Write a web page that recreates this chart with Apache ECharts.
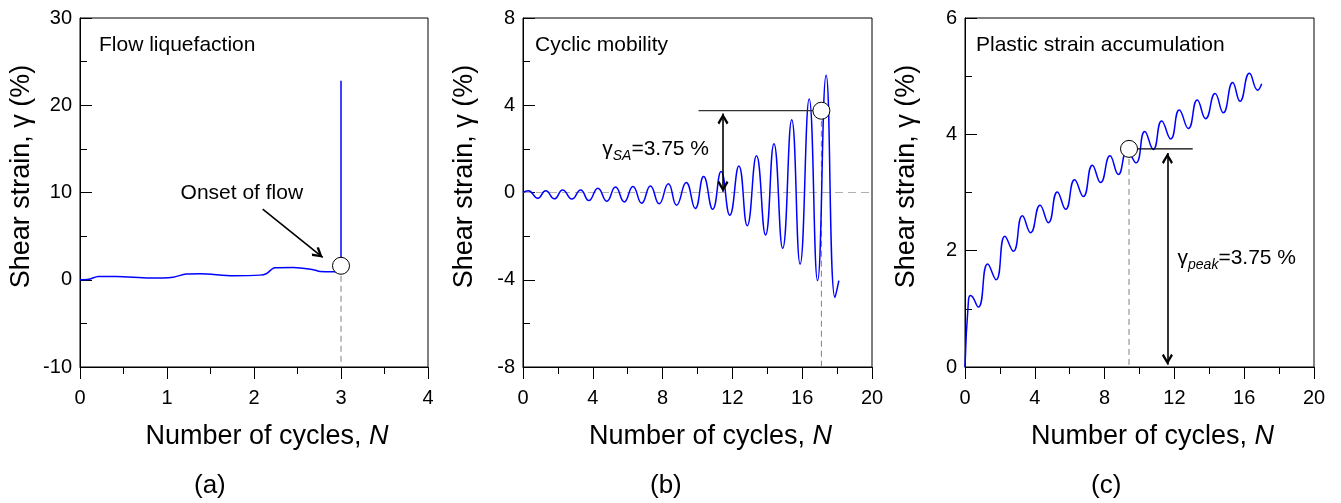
<!DOCTYPE html>
<html><head><meta charset="utf-8">
<script src="https://cdn.jsdelivr.net/npm/echarts@6/dist/echarts.min.js"></script>
<style>html,body{margin:0;padding:0;background:#fff}#c{width:1341px;height:503px}</style>
</head><body><div id="c"></div>
<script>
// ---------- data ----------
// (a) Flow liquefaction
const flowX = [0, 0.1, 0.21, 0.42, 0.8, 1.07, 1.22, 1.38, 1.76, 2.07, 2.14, 2.24, 2.45, 2.68, 2.76, 2.91, 3.0, 3.0];
const flowY = [0, 0.05, 0.38, 0.38, 0.19, 0.3, 0.65, 0.69, 0.46, 0.53, 0.69, 1.37, 1.41, 1.15, 0.95, 0.92, 0.95, 22.8];
const flowOnset = [3.0, 1.6];
const flowArrow = [[2.1, 8.1], [2.79, 2.56]];
const flowText = 'Onset of flow';
const flowTextPos = [1.86, 9.9];

// (b) Cyclic mobility
const cycX = [0, 0.3, 0.85, 1.3, 1.8, 2.27, 2.8, 3.3, 3.77, 4.29, 4.8, 5.3, 5.8, 6.3, 6.8, 7.3, 7.8, 8.33, 8.8, 9.35, 9.87, 10.35, 10.87, 11.35, 11.85, 12.37, 12.85, 13.38, 13.9, 14.38, 14.88, 15.4, 15.88, 16.4, 16.88, 17.37, 17.88, 18.1];
const cycY = [0, 0.08, -0.26, 0.08, -0.29, 0.12, -0.3, 0.12, -0.37, 0.2, -0.4, 0.25, -0.43, 0.28, -0.49, 0.3, -0.52, 0.4, -0.58, 0.46, -0.73, 0.73, -0.77, 0.96, -1.04, 1.22, -1.52, 1.68, -1.95, 2.24, -2.56, 3.34, -3.28, 4.29, -4.04, 5.38, -4.81, -4.04];
const cycPoint = [17.1, 3.75];
const cycRefStartX = 10.06;
const cycArrowX = 11.46;
const cycArrowY = [0.03, 3.62];
const cycText = ['γ', 'SA', '=3.75 %'];
const cycTextPos = [4.51, 2.0];

// (c) Plastic strain accumulation
const plasX = [0, 0.2, 0.32, 0.76, 1.3, 1.78, 2.29, 2.77, 3.29, 3.76, 4.3, 4.78, 5.29, 5.77, 6.28, 6.78, 7.3, 7.77, 8.31, 8.79, 9.3, 9.8, 10.3, 10.79, 11.27, 11.79, 12.28, 12.8, 13.31, 13.79, 14.33, 14.8, 15.34, 15.76, 16.3, 16.77, 17.0];
const plasY = [0, 1.15, 1.23, 1.03, 1.77, 1.5, 2.25, 1.99, 2.6, 2.31, 2.78, 2.48, 3.01, 2.71, 3.22, 2.93, 3.47, 3.17, 3.63, 3.31, 3.72, 3.51, 4.05, 3.74, 4.23, 3.92, 4.42, 4.1, 4.59, 4.27, 4.7, 4.37, 4.89, 4.57, 5.05, 4.76, 4.87];
const plasPoint = [9.4, 3.75];
const plasRefEndX = 13.05;
const plasArrowX = 11.6;
const plasArrowY = [0.04, 3.68];
const plasText = ['γ', 'peak', '=3.75 %'];
const plasTextPos = [12.15, 1.87];

// axes
const xRanges = [[0, 4, 1], [0, 20, 4], [0, 20, 4]];
const yRanges = [[-10, 30, 10], [-8, 8, 4], [0, 6, 2]];
const panelTitles = ['Flow liquefaction', 'Cyclic mobility', 'Plastic strain accumulation'];
const panelTags = ['(a)', '(b)', '(c)'];
const xName = ['Number of cycles, ', 'N'];
const yName = 'Shear strain, γ (%)';

// ---------- chart ----------
const FONT = "'Liberation Sans', Arial, Helvetica, sans-serif";
const INK = '#000';
const BLUE = '#0000ff';
const chevron = 'path://M50,0L50,0M50,100L100,184L84,200L50,140L16,200L0,184Z';
const zip = (xs, ys) => xs.map((x, i) => [x, ys[i]]);

const gridPos = [
  { left: 80, top: 18, width: 348, height: 349 },
  { left: 523, top: 18, width: 349, height: 349 },
  { left: 965, top: 18, width: 349, height: 349 }
];
const titleLeft = [99, 535, 976];
const tagLeft = [194, 650, 1091];

const grid = gridPos.map(g => Object.assign({
  show: true, borderColor: INK, borderWidth: 1, backgroundColor: 'transparent',
  containLabel: false, outerBoundsMode: 'none'
}, g));

const xAxis = xRanges.map((r, i) => ({
  type: 'value', gridIndex: i, min: r[0], max: r[1], interval: r[2],
  axisLine: { show: true, onZero: false, lineStyle: { color: INK, width: 1 } },
  axisTick: { show: true, inside: false, length: 12, lineStyle: { color: INK, width: 1 } },
  minorTick: { show: true, splitNumber: 2, length: 7, lineStyle: { color: INK, width: 1 } },
  axisLabel: { fontSize: 20, color: INK, fontFamily: FONT, margin: 21 },
  splitLine: { show: false }, minorSplitLine: { show: false },
  name: '{a|' + xName[0] + '}{n|' + xName[1] + '}',
  nameLocation: 'middle', nameGap: 56, nameMoveOverlap: false,
  nameTextStyle: {
    padding: [0, 0, 0, 26],
    rich: {
      a: { fontSize: 27, color: INK, fontFamily: FONT },
      n: { fontSize: 27, color: INK, fontFamily: FONT, fontStyle: 'italic' }
    }
  }
}));

const yAxis = yRanges.map((r, i) => ({
  type: 'value', gridIndex: i, min: r[0], max: r[1], interval: r[2],
  axisLine: { show: true, onZero: false, lineStyle: { color: INK, width: 1 } },
  axisTick: { show: true, inside: true, length: 12, lineStyle: { color: INK, width: 1 } },
  minorTick: { show: true, splitNumber: 2, length: 7, lineStyle: { color: INK, width: 1 } },
  axisLabel: { fontSize: 20, color: INK, fontFamily: FONT, margin: 8 },
  splitLine: { show: false }, minorSplitLine: { show: false },
  name: yName, nameLocation: 'middle', nameGap: 45, nameMoveOverlap: false,
  nameTextStyle: { fontSize: 27, color: INK, fontFamily: FONT, padding: [0, 0, 0, 32] }
}));

const title = [];
panelTitles.forEach((t, i) => title.push({
  text: t, left: titleLeft[i], top: 35, padding: 0,
  textStyle: { fontSize: 21, fontWeight: 'normal', color: INK, fontFamily: FONT }
}));
panelTags.forEach((t, i) => title.push({
  text: t, left: tagLeft[i], top: 473, padding: 0,
  textStyle: { fontSize: 26, fontWeight: 'normal', color: INK, fontFamily: FONT }
}));

function blueLine(i, xs, ys, smooth) {
  return { type: 'line', xAxisIndex: i, yAxisIndex: i, data: zip(xs, ys), showSymbol: false,
    smooth: smooth, lineStyle: { color: BLUE, width: 1.5 }, itemStyle: { color: BLUE }, silent: true, z: 3 };
}
function seg(i, a, b, color, width, type, z) {
  return { type: 'line', xAxisIndex: i, yAxisIndex: i, data: [a, b], showSymbol: false,
    lineStyle: { color: color, width: width, type: type }, silent: true, z: z || 2 };
}
function circle(i, p) {
  return { type: 'scatter', xAxisIndex: i, yAxisIndex: i, data: [p], symbol: 'circle', symbolSize: 17,
    itemStyle: { color: '#fff', borderColor: INK, borderWidth: 1, opacity: 1 }, silent: true, z: 10 };
}
function arrow(i, a, b, both) {
  return { type: 'line', xAxisIndex: i, yAxisIndex: i, data: [], silent: true, z: 6,
    markLine: { silent: true, animation: false, symbol: [both ? chevron : 'none', chevron], symbolSize: [11, 22],
      label: { show: false }, lineStyle: { color: INK, width: 1.6, type: 'solid', opacity: 1 },
      itemStyle: { color: INK, opacity: 1 },
      emphasis: { disabled: true },
      data: [[{ coord: a }, { coord: b }]] } };
}
function textMark(i, pos, label) {
  return { type: 'scatter', xAxisIndex: i, yAxisIndex: i, data: [pos], symbolSize: 1,
    itemStyle: { color: 'rgba(0,0,0,0)', opacity: 1 }, silent: true, z: 8,
    emphasis: { disabled: true }, label: label };
}
function rich3(parts) {
  return { show: true, position: 'right', distance: 0, opacity: 1,
    formatter: '{g|' + parts[0] + '}{s|' + parts[1] + '}{t|' + parts[2] + '}',
    rich: {
      g: { fontSize: 21, color: INK, fontFamily: FONT, lineHeight: 28 },
      s: { fontSize: 14, color: INK, fontFamily: FONT, fontStyle: 'italic', lineHeight: 28, verticalAlign: 'bottom' },
      t: { fontSize: 21, color: INK, fontFamily: FONT, lineHeight: 28 }
    } };
}

const series = [
  // (a)
  seg(0, flowOnset, [flowOnset[0], yRanges[0][0]], '#808080', 1, [6, 4]),
  blueLine(0, flowX, flowY, 0.3),
  arrow(0, flowArrow[0], flowArrow[1], false),
  textMark(0, flowTextPos, { show: true, position: 'inside', opacity: 1, formatter: flowText, fontSize: 21, color: INK, fontFamily: FONT }),
  circle(0, flowOnset),
  // (b)
  seg(1, [xRanges[1][0], 0], [xRanges[1][1], 0], '#b0b0b0', 1.2, [8, 5], 1),
  seg(1, cycPoint, [cycPoint[0], yRanges[1][0]], '#808080', 1, [6, 4]),
  blueLine(1, cycX, cycY, 0.5),
  seg(1, [cycRefStartX, cycPoint[1]], cycPoint, '#333', 1.2, 'solid', 4),
  arrow(1, [cycArrowX, cycArrowY[0]], [cycArrowX, cycArrowY[1]], true),
  textMark(1, cycTextPos, rich3(cycText)),
  circle(1, cycPoint),
  // (c)
  seg(2, plasPoint, [plasPoint[0], yRanges[2][0]], '#808080', 1, [6, 4]),
  blueLine(2, plasX, plasY, 0.5),
  seg(2, plasPoint, [plasRefEndX, plasPoint[1]], INK, 1.2, 'solid', 4),
  arrow(2, [plasArrowX, plasArrowY[0]], [plasArrowX, plasArrowY[1]], true),
  textMark(2, plasTextPos, rich3(plasText)),
  circle(2, plasPoint)
];

const chart = echarts.init(document.getElementById('c'), null, { renderer: 'canvas' });
chart.setOption({
  animation: false,
  backgroundColor: '#fff',
  textStyle: { fontFamily: FONT },
  title: title, grid: grid, xAxis: xAxis, yAxis: yAxis, series: series
});
</script>
</body></html>
